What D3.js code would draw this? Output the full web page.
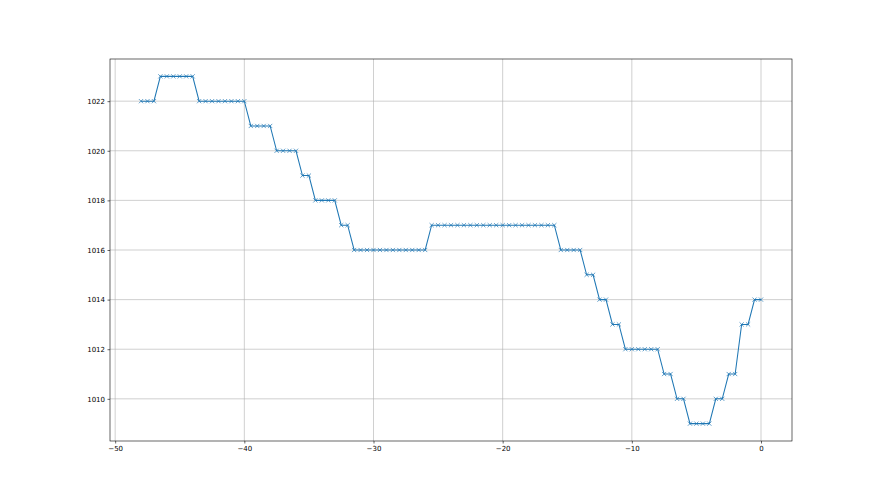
<!DOCTYPE html>
<html>
<head>
<meta charset="utf-8">
<script src="https://cdn.jsdelivr.net/npm/d3@7"></script>
<style>
  body { margin: 0; background: #fff; }
  .axis text { font-family: "DejaVu Sans", sans-serif; font-size: 7px; fill: #000; }
  .axis path, .axis line { stroke: #000; stroke-width: 0.6; }
  .grid line { stroke: #b0b0b0; stroke-width: 0.6; }
</style>
</head>
<body>
<div id="chart"></div>
<script>
// hours relative to now
var hours = [
  -48, -47.5, -47, -46.5, -46, -45.5, -45, -44.5, -44, -43.5,
  -43, -42.5, -42, -41.5, -41, -40.5, -40, -39.5, -39, -38.5,
  -38, -37.5, -37, -36.5, -36, -35.5, -35, -34.5, -34, -33.5,
  -33, -32.5, -32, -31.5, -31, -30.5, -30, -29.5, -29, -28.5,
  -28, -27.5, -27, -26.5, -26, -25.5, -25, -24.5, -24, -23.5,
  -23, -22.5, -22, -21.5, -21, -20.5, -20, -19.5, -19, -18.5,
  -18, -17.5, -17, -16.5, -16, -15.5, -15, -14.5, -14, -13.5,
  -13, -12.5, -12, -11.5, -11, -10.5, -10, -9.5, -9, -8.5,
  -8, -7.5, -7, -6.5, -6, -5.5, -5, -4.5, -4, -3.5,
  -3, -2.5, -2, -1.5, -1, -0.5, 0
];

// pressure readings (hPa)
var pressure = [
  1022, 1022, 1022, 1023, 1023, 1023, 1023, 1023, 1023, 1022,
  1022, 1022, 1022, 1022, 1022, 1022, 1022, 1021, 1021, 1021,
  1021, 1020, 1020, 1020, 1020, 1019, 1019, 1018, 1018, 1018,
  1018, 1017, 1017, 1016, 1016, 1016, 1016, 1016, 1016, 1016,
  1016, 1016, 1016, 1016, 1016, 1017, 1017, 1017, 1017, 1017,
  1017, 1017, 1017, 1017, 1017, 1017, 1017, 1017, 1017, 1017,
  1017, 1017, 1017, 1017, 1017, 1016, 1016, 1016, 1016, 1015,
  1015, 1014, 1014, 1013, 1013, 1012, 1012, 1012, 1012, 1012,
  1012, 1011, 1011, 1010, 1010, 1009, 1009, 1009, 1009, 1010,
  1010, 1011, 1011, 1013, 1013, 1014, 1014
];

var xTicks = [-50, -40, -30, -20, -10, 0];
var yTicks = [1010, 1012, 1014, 1016, 1018, 1020, 1022];

var W = 880, H = 495;
var margin = { top: 59, right: 88, bottom: 54, left: 110 };
var width = W - margin.left - margin.right;
var height = H - margin.top - margin.bottom;

var data = hours.map(function(h, i) { return { h: h, p: pressure[i] }; });

// matplotlib-like 5% margins
var xExt = d3.extent(hours), yExt = d3.extent(pressure);
var xPad = (xExt[1] - xExt[0]) * 0.05, yPad = (yExt[1] - yExt[0]) * 0.05;

var x = d3.scaleLinear().domain([xExt[0] - xPad, xExt[1] + xPad]).range([0, width]);
var y = d3.scaleLinear().domain([yExt[0] - yPad, yExt[1] + yPad]).range([height, 0]);

var svg = d3.select("#chart").append("svg")
    .attr("width", W)
    .attr("height", H);

var g = svg.append("g")
    .attr("transform", "translate(" + margin.left + "," + margin.top + ")");

// grid
g.append("g").attr("class", "grid")
    .selectAll("line.gx").data(xTicks).enter().append("line")
    .attr("x1", function(d) { return x(d); })
    .attr("x2", function(d) { return x(d); })
    .attr("y1", 0).attr("y2", height);

g.append("g").attr("class", "grid")
    .selectAll("line.gy").data(yTicks).enter().append("line")
    .attr("y1", function(d) { return y(d); })
    .attr("y2", function(d) { return y(d); })
    .attr("x1", 0).attr("x2", width);

// line
var line = d3.line()
    .x(function(d) { return x(d.h); })
    .y(function(d) { return y(d.p); });

g.append("path")
    .datum(data)
    .attr("fill", "none")
    .attr("stroke", "#1f77b4")
    .attr("stroke-width", 1.05)
    .attr("d", line);

// x markers
var ms = 2.1;
g.selectAll(".mark")
    .data(data)
    .enter().append("path")
    .attr("class", "mark")
    .attr("transform", function(d) { return "translate(" + x(d.h) + "," + y(d.p) + ")"; })
    .attr("d", "M" + (-ms) + "," + (-ms) + "L" + ms + "," + ms + "M" + (-ms) + "," + ms + "L" + ms + "," + (-ms))
    .attr("stroke", "#1f77b4")
    .attr("stroke-width", 0.7)
    .attr("fill", "none");

// axes
var xAxis = d3.axisBottom(x).tickValues(xTicks).tickSize(2.5).tickPadding(2.5)
    .tickFormat(function(d) { return d < 0 ? "\u2212" + Math.abs(d) : d; });
var yAxis = d3.axisLeft(y).tickValues(yTicks).tickSize(2.5).tickPadding(2.5)
    .tickFormat(d3.format("d"));

g.append("g").attr("class", "x axis")
    .attr("transform", "translate(0," + height + ")")
    .call(xAxis)
    .select(".domain").remove();

g.append("g").attr("class", "y axis")
    .call(yAxis)
    .select(".domain").remove();

// frame (spines)
g.append("rect")
    .attr("x", 0).attr("y", 0)
    .attr("width", width).attr("height", height)
    .attr("fill", "none")
    .attr("stroke", "#000")
    .attr("stroke-width", 0.6);
</script>
</body>
</html>
